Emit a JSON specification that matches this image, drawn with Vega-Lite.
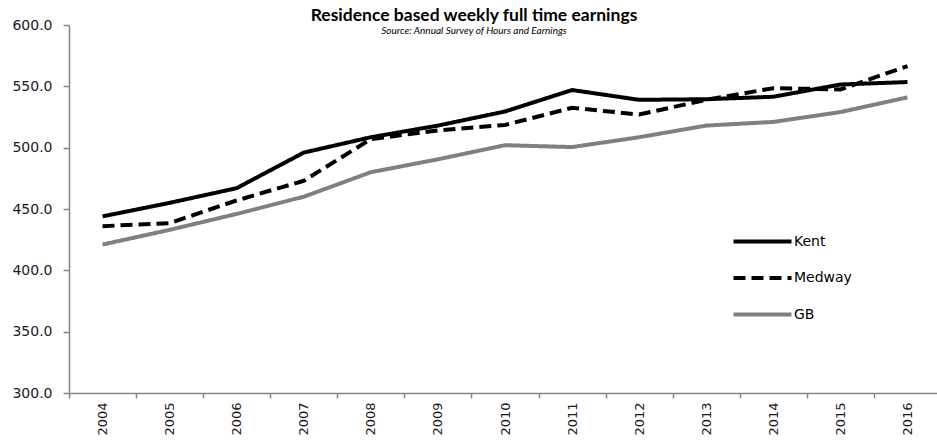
{
  "$schema": "https://vega.github.io/schema/vega-lite/v6.json",
  "width": 872,
  "height": 368,
  "autosize": {"type": "none"},
  "padding": {"left": 69, "top": 25, "right": 0, "bottom": 53},
  "background": "white",
  "title": {
    "text": "Residence based weekly full time earnings",
    "subtitle": "Source: Annual Survey of Hours and Earnings",
    "font": "Lato",
    "fontSize": 17.5,
    "fontWeight": "bold",
    "subtitleFont": "Lato",
    "subtitleFontSize": 10,
    "subtitleFontStyle": "italic",
    "color": "black",
    "subtitleColor": "black",
    "anchor": "middle",
    "dx": -31,
    "offset": -18,
    "subtitlePadding": 2
  },
  "data": {
    "values": [
      {"year": "2004", "area": "Kent", "value": 444},
      {"year": "2005", "area": "Kent", "value": 455},
      {"year": "2006", "area": "Kent", "value": 467},
      {"year": "2007", "area": "Kent", "value": 496},
      {"year": "2008", "area": "Kent", "value": 508.5},
      {"year": "2009", "area": "Kent", "value": 518},
      {"year": "2010", "area": "Kent", "value": 529.5},
      {"year": "2011", "area": "Kent", "value": 547},
      {"year": "2012", "area": "Kent", "value": 539},
      {"year": "2013", "area": "Kent", "value": 539.5},
      {"year": "2014", "area": "Kent", "value": 541.5},
      {"year": "2015", "area": "Kent", "value": 551.5},
      {"year": "2016", "area": "Kent", "value": 553.5},
      {"year": "2004", "area": "Medway", "value": 436},
      {"year": "2005", "area": "Medway", "value": 438.5},
      {"year": "2006", "area": "Medway", "value": 457},
      {"year": "2007", "area": "Medway", "value": 473},
      {"year": "2008", "area": "Medway", "value": 507},
      {"year": "2009", "area": "Medway", "value": 514},
      {"year": "2010", "area": "Medway", "value": 518.5},
      {"year": "2011", "area": "Medway", "value": 532.5},
      {"year": "2012", "area": "Medway", "value": 527},
      {"year": "2013", "area": "Medway", "value": 539},
      {"year": "2014", "area": "Medway", "value": 548.5},
      {"year": "2015", "area": "Medway", "value": 547.5},
      {"year": "2016", "area": "Medway", "value": 566.5},
      {"year": "2004", "area": "GB", "value": 421},
      {"year": "2005", "area": "GB", "value": 433},
      {"year": "2006", "area": "GB", "value": 446},
      {"year": "2007", "area": "GB", "value": 460},
      {"year": "2008", "area": "GB", "value": 480},
      {"year": "2009", "area": "GB", "value": 490.5},
      {"year": "2010", "area": "GB", "value": 502},
      {"year": "2011", "area": "GB", "value": 500.5},
      {"year": "2012", "area": "GB", "value": 508.5},
      {"year": "2013", "area": "GB", "value": 518},
      {"year": "2014", "area": "GB", "value": 521},
      {"year": "2015", "area": "GB", "value": 529},
      {"year": "2016", "area": "GB", "value": 541}
    ]
  },
  "mark": {"type": "line", "strokeWidth": 4},
  "encoding": {
    "x": {
      "field": "year",
      "type": "ordinal",
      "scale": {"type": "band", "paddingInner": 0, "paddingOuter": 0},
      "bandPosition": 0.5,
      "axis": {
        "title": null,
        "labelAngle": -90,
        "labelFont": "DejaVu Sans",
        "labelFontSize": 13,
        "labelColor": "#1a1a1a",
        "labelPadding": 4,
        "tickBand": "extent",
        "tickSize": 5,
        "tickColor": "#868686",
        "tickWidth": 1.5,
        "domainColor": "#868686",
        "domainWidth": 1.5,
        "labelAlign": "right",
        "labelBaseline": "middle"
      }
    },
    "y": {
      "field": "value",
      "type": "quantitative",
      "scale": {"domain": [300, 600]},
      "axis": {
        "title": null,
        "values": [300, 350, 400, 450, 500, 550, 600],
        "format": ".1f",
        "labelFont": "DejaVu Sans",
        "labelFontSize": 14,
        "labelColor": "#1a1a1a",
        "tickSize": 6,
        "labelPadding": 11,
        "grid": false,
        "tickColor": "#868686",
        "tickWidth": 1.5,
        "domainColor": "#868686",
        "domainWidth": 1.5
      }
    },
    "color": {
      "field": "area",
      "type": "nominal",
      "scale": {"domain": ["Kent", "Medway", "GB"], "range": ["#000000", "#000000", "#808080"]},
      "legend": {
        "title": null,
        "orient": "none",
        "legendX": 677,
        "legendY": 200,
        "symbolType": "M-2,0H2",
        "symbolSize": 841,
        "symbolStrokeWidth": 4,
        "labelFont": "DejaVu Sans",
        "labelFontSize": 14,
        "labelColor": "black",
        "labelOffset": 15,
        "rowPadding": 11.5,
        "padding": 0
      }
    },
    "strokeDash": {
      "field": "area",
      "type": "nominal",
      "scale": {"domain": ["Kent", "Medway", "GB"], "range": [[1, 0], [12, 6], [1, 0]]},
      "legend": {
        "title": null,
        "orient": "none",
        "legendX": 677,
        "legendY": 200,
        "symbolType": "M-2,0H2",
        "symbolSize": 841,
        "symbolStrokeWidth": 4,
        "labelFont": "DejaVu Sans",
        "labelFontSize": 14,
        "labelColor": "black",
        "labelOffset": 15,
        "rowPadding": 11.5,
        "padding": 0
      }
    }
  },
  "config": {"view": {"stroke": null}}
}
